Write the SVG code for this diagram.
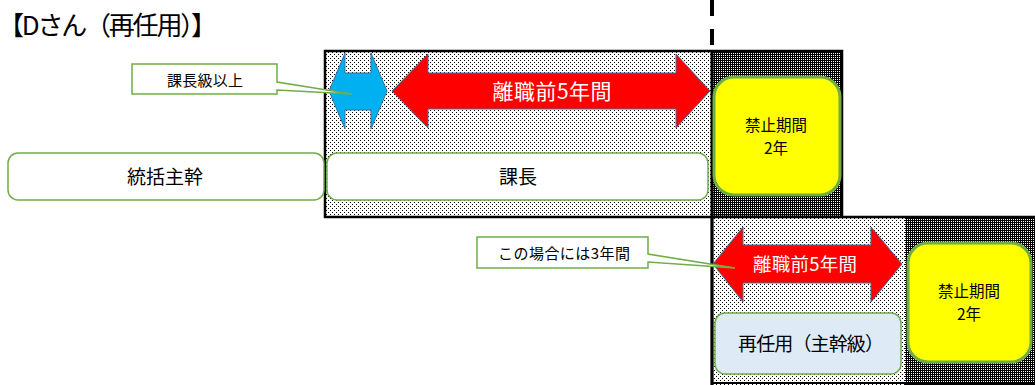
<svg xmlns="http://www.w3.org/2000/svg" width="1035" height="385" viewBox="0 0 1035 385">
<defs>
  <pattern id="lightDots" width="4" height="4" patternUnits="userSpaceOnUse">
    <rect width="4" height="4" fill="#ffffff"/>
    <rect x="0" y="0" width="1" height="1" fill="#000"/>
    <rect x="2" y="2" width="1" height="1" fill="#000"/>
  </pattern>
  <pattern id="darkDots" width="2" height="2" patternUnits="userSpaceOnUse">
    <rect width="2" height="2" fill="#000"/>
    <rect x="1" y="1" width="1" height="1" fill="#ffffff"/>
  </pattern>
  <style>
    .jp { font-family: "Noto Sans CJK JP", "Noto Sans", sans-serif; font-weight: normal; fill: #000; }
    .white { fill: #ffffff; }
    .node { stroke: #70AD47; stroke-width: 1.5; }
    .yellow { fill: #FFFF00; stroke: #70AD47; stroke-width: 3; }
    .arrow { stroke: #41719C; stroke-width: 1; }
    .frame { fill: none; stroke: #000; stroke-width: 2.5; }
  </style>
</defs>
<rect width="1035" height="385" fill="#ffffff"/>

<text class="jp" x="-2" y="35" font-size="26" textLength="219">【Dさん（再任用）】</text>

<g id="period-top">
  <rect x="325" y="51" width="387" height="166" fill="url(#lightDots)"/>
  <rect x="712" y="51" width="130" height="166" fill="url(#darkDots)"/>
  <rect x="325" y="51" width="517" height="166" class="frame"/>
</g>
<g id="period-bottom">
  <rect x="712" y="217" width="193" height="168" fill="url(#lightDots)"/>
  <rect x="905" y="217" width="130" height="168" fill="url(#darkDots)"/>
  <path d="M712,385 V217 H1035" class="frame"/>
  <line x1="712" y1="383" x2="1035" y2="383" stroke="#000" stroke-width="2"/>
</g>

<g id="connectors">
  <line x1="712" y1="0" x2="712" y2="51" stroke="#000" stroke-width="4" stroke-dasharray="16,13"/>
  <line x1="712" y1="51" x2="712" y2="385" stroke="#000" stroke-width="3"/>
</g>

<g id="node-tokatsu">
  <rect x="8" y="153" width="316" height="47" rx="10" fill="#ffffff" class="node"/>
  <text class="jp" x="165" y="184" font-size="19" text-anchor="middle">統括主幹</text>
</g>
<g id="node-kacho">
  <rect x="327" y="153" width="381" height="47" rx="10" fill="#ffffff" class="node"/>
  <text class="jp" x="518" y="184" font-size="19" text-anchor="middle">課長</text>
</g>
<g id="node-kinshi-top">
  <rect x="714" y="77" width="126" height="118" rx="20" class="yellow"/>
  <text class="jp" x="776" y="131" font-size="15.5" text-anchor="middle">禁止期間</text>
  <text class="jp" x="776" y="154" font-size="15.5" text-anchor="middle">2年</text>
</g>
<g id="node-saininyo">
  <rect x="715" y="313" width="186" height="61" rx="10" fill="#DEEBF7" class="node"/>
  <text class="jp" x="811" y="351" font-size="19" text-anchor="middle" textLength="146">再任用（主幹級）</text>
</g>
<g id="node-kinshi-bottom">
  <rect x="908" y="243" width="123" height="119" rx="20" class="yellow"/>
  <text class="jp" x="969" y="297" font-size="15.5" text-anchor="middle">禁止期間</text>
  <text class="jp" x="969" y="320" font-size="15.5" text-anchor="middle">2年</text>
</g>

<g id="arrow-blue">
  <path d="M329,91 L345,53 V73 H371 V53 L387,91 L371,129 V110 H345 V129 Z" fill="#00B0F0" class="arrow"/>
</g>
<g id="arrow-red-top">
  <path d="M392,91 L428,54 V73 H676 V54 L710,91 L676,128 V109 H428 V128 Z" fill="#FF0000" class="arrow"/>
  <text class="jp white" x="552" y="99" font-size="21" text-anchor="middle" textLength="119">離職前5年間</text>
</g>
<g id="arrow-red-bottom">
  <path d="M713,264 L743,227 V245 H871 V227 L902,264 L871,302 V283 H743 V302 Z" fill="#FF0000" class="arrow"/>
  <text class="jp white" x="805" y="271" font-size="18.5" text-anchor="middle" textLength="104">離職前5年間</text>
</g>

<g id="callout-kacho">
  <path d="M132,64 H277 V82 L352,94 L277,90 V94 H132 Z" fill="#ffffff" class="node"/>
  <text class="jp" x="205" y="86" font-size="15" text-anchor="middle" textLength="76">課長級以上</text>
</g>
<g id="callout-3years">
  <path d="M477,237 H648 V254 L735,268 L648,262 V268 H477 Z" fill="#ffffff" class="node"/>
  <text class="jp" x="564" y="259" font-size="15" text-anchor="middle" textLength="132">この場合には3年間</text>
</g>
</svg>
